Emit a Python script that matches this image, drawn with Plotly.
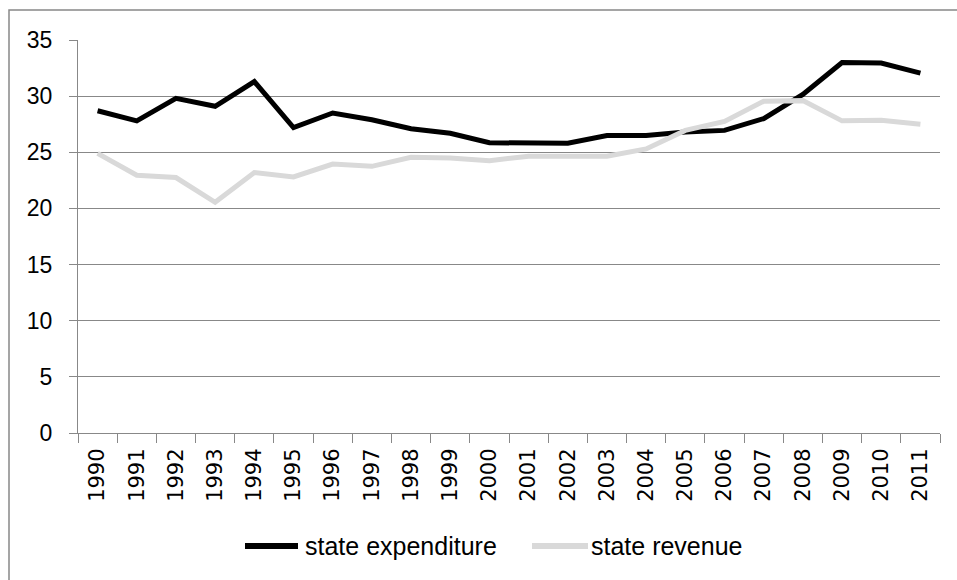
import plotly.graph_objects as go

years = [str(y) for y in range(1990, 2012)]
expenditure = [28.7, 27.8, 29.8, 29.1, 31.3, 27.2, 28.5, 27.9, 27.1, 26.7, 25.85,
               25.85, 25.8, 26.5, 26.5, 26.8, 26.95, 28.0, 30.15, 33.0, 32.95, 32.05]
revenue = [24.9, 22.95, 22.75, 20.55, 23.2, 22.8, 23.95, 23.75, 24.55, 24.5, 24.25,
           24.65, 24.65, 24.65, 25.3, 26.95, 27.75, 29.55, 29.6, 27.8, 27.85, 27.5]
series_names = ["state expenditure", "state revenue"]
series_colors = ["#000000", "#d9d9d9"]
y_ticks = [0, 5, 10, 15, 20, 25, 30, 35]

FONT = "Liberation Sans, Arial, sans-serif"
XFONT = "DejaVu Sans, sans-serif"
GRID = "#888888"

# plot area in pixels
L, R, T, B = 78, 940, 40, 433.3
W, H = R - L, B - T


def px(x):
    return (x - L) / W


def py(y):
    return (B - y) / H


fig = go.Figure()
for name, vals, col in zip(series_names, [expenditure, revenue], series_colors):
    fig.add_trace(go.Scatter(x=years, y=vals, mode="lines", name=name,
                             line=dict(color=col, width=5)))

fig.update_layout(
    width=957, height=580,
    margin=dict(l=L, r=957 - R, t=T, b=580 - B, pad=0),
    paper_bgcolor="white", plot_bgcolor="white",
    font=dict(family=FONT, color="black"),
    showlegend=False,
    xaxis=dict(type="category", showgrid=False, showline=True, linecolor=GRID, linewidth=1,
               ticks="outside", tickson="boundaries", ticklen=9, tickcolor=GRID, tickwidth=1,
               tickangle=-90, tickfont=dict(size=21, family=XFONT), ticklabelstandoff=6,
               range=[-0.5, len(years) - 0.5], fixedrange=True),
    yaxis=dict(range=[0, 35], tickvals=y_ticks, showgrid=True, gridcolor=GRID, gridwidth=1,
               showline=True, linecolor=GRID, linewidth=1, ticks="outside", ticklen=8,
               tickcolor=GRID, tickwidth=1, tickfont=dict(size=23, family=FONT),
               ticklabelstandoff=12, zeroline=False, fixedrange=True),
)

# outer chart border (only top and left edges visible in the frame)
fig.add_shape(type="rect", xref="paper", yref="paper",
              x0=px(9), x1=1.5, y0=-1.0, y1=py(10),
              line=dict(color="#888888", width=1.5), fillcolor="rgba(0,0,0,0)", layer="below")

# manual legend
legend_line_x = [(245, 298), (532, 588)]
legend_text_x = [303, 589]
legend_y = 546.5
for name, col, (x0, x1), tx in zip(series_names, series_colors, legend_line_x, legend_text_x):
    fig.add_shape(type="line", xref="paper", yref="paper",
                  x0=px(x0), x1=px(x1), y0=py(legend_y), y1=py(legend_y),
                  line=dict(color=col, width=6))
    fig.add_annotation(xref="paper", yref="paper", x=px(tx), y=py(legend_y),
                       xanchor="left", yanchor="middle", showarrow=False,
                       text=name, font=dict(size=25, family=FONT, color="black"))

fig.write_html("out.html", config={"displayModeBar": False, "staticPlot": True},
               post_script="document.body.style.margin='0';")
